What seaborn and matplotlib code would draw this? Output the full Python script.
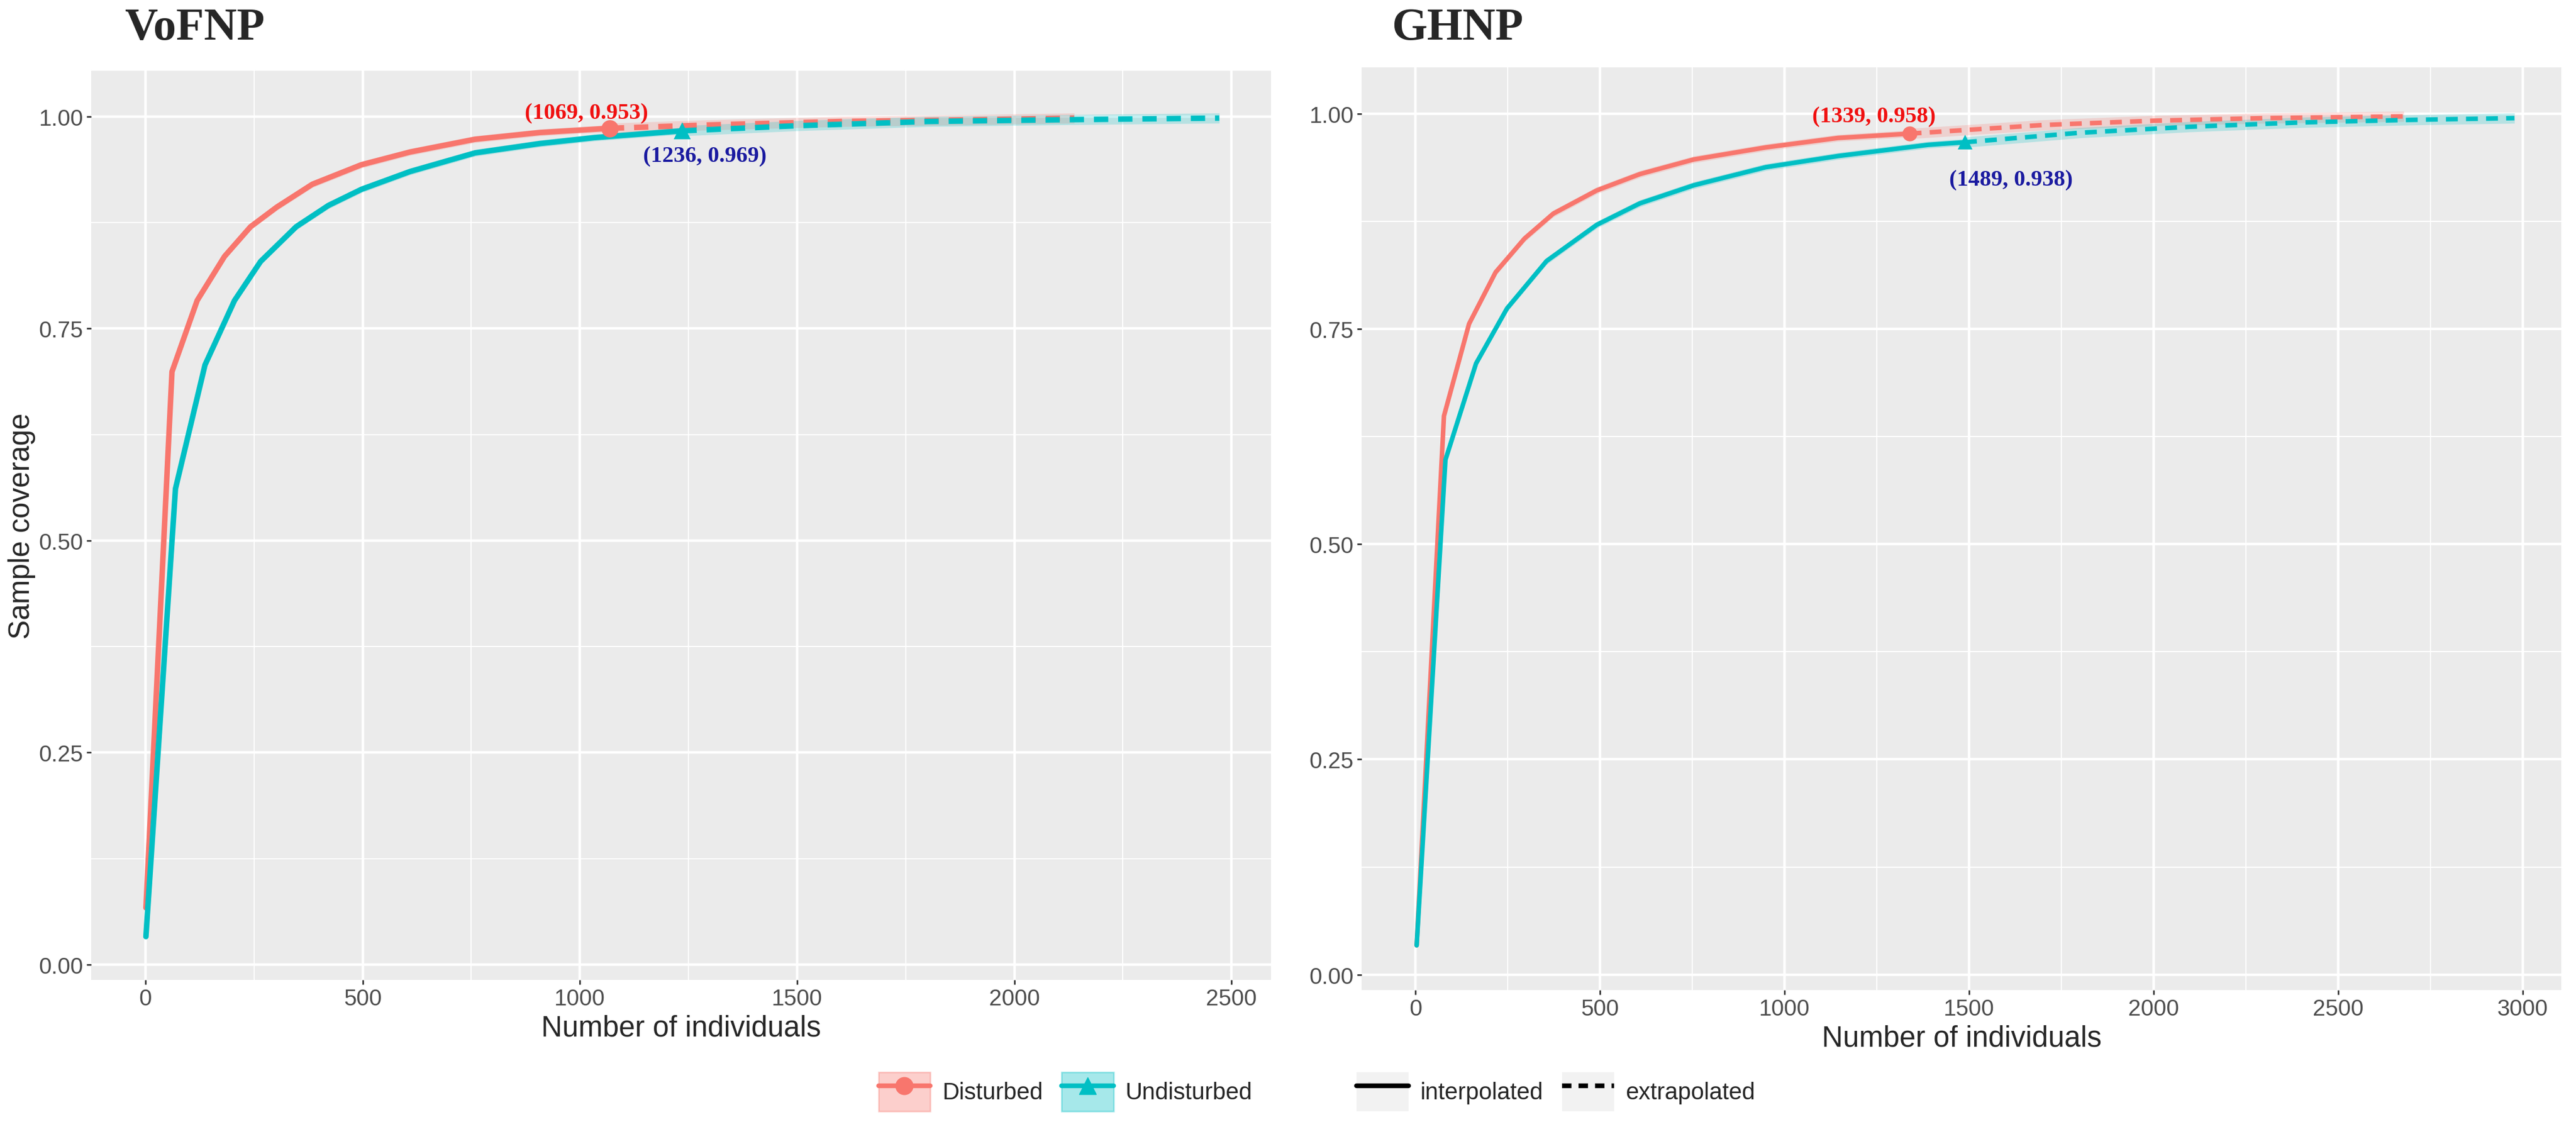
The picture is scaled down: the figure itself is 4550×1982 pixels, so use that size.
import numpy as np
import pandas as pd
import seaborn as sns
import matplotlib.pyplot as plt
from matplotlib.lines import Line2D
from matplotlib.patches import Patch
from matplotlib.legend_handler import HandlerTuple

# ---- VoFNP (left panel) ----
vo_dist_m = [1, 61, 119, 182, 242, 302, 384, 497, 609, 758, 908, 1069]
vo_dist_c = [0.067, 0.699, 0.783, 0.835, 0.870, 0.893, 0.920, 0.943, 0.958, 0.973, 0.981, 0.986]
vo_dist_ext_m = [1069, 1300, 1600, 1900, 2138]
vo_dist_ext_c = [0.986, 0.990, 0.994, 0.996, 0.998]
vo_und_m = [1, 69, 137, 205, 265, 347, 421, 497, 609, 759, 908, 1034, 1236]
vo_und_c = [0.033, 0.561, 0.707, 0.783, 0.829, 0.870, 0.895, 0.914, 0.935, 0.957, 0.968, 0.975, 0.983]
vo_und_ext_m = [1236, 1500, 1800, 2100, 2472]
vo_und_ext_c = [0.983, 0.989, 0.994, 0.996, 0.998]

# ---- GHNP (right panel) ----
gh_dist_m = [3, 77, 145, 217, 295, 373, 491, 608, 754, 949, 1145, 1339]
gh_dist_c = [0.034, 0.649, 0.756, 0.816, 0.855, 0.884, 0.911, 0.930, 0.947, 0.961, 0.972, 0.977]
gh_dist_ext_m = [1339, 1700, 2000, 2300, 2678]
gh_dist_ext_c = [0.977, 0.987, 0.992, 0.995, 0.997]
gh_und_m = [3, 81, 164, 248, 355, 491, 608, 754, 949, 1145, 1389, 1489]
gh_und_c = [0.034, 0.598, 0.710, 0.774, 0.829, 0.871, 0.896, 0.917, 0.938, 0.951, 0.964, 0.967]
gh_und_ext_m = [1489, 1800, 2100, 2400, 2700, 2978]
gh_und_ext_c = [0.967, 0.978, 0.985, 0.990, 0.993, 0.995]

sites = ['Disturbed', 'Undisturbed']
methods = ['interpolated', 'extrapolated']
vo_labels = ['(1069, 0.953)', '(1236, 0.969)']
gh_labels = ['(1339, 0.958)', '(1489, 0.938)']
x_ticks_vo = [0, 500, 1000, 1500, 2000, 2500]
x_ticks_gh = [0, 500, 1000, 1500, 2000, 2500, 3000]
y_ticks = [0.00, 0.25, 0.50, 0.75, 1.00]

pal = {'Disturbed': '#F8766D', 'Undisturbed': '#00BFC4'}
marks = {'Disturbed': 'o', 'Undisturbed': '^'}
text_cols = ['#F01010', '#1A1AA0']

sns.set_theme(style='darkgrid', rc={
    'axes.facecolor': '#EBEBEB',
    'grid.color': 'white',
    'axes.edgecolor': '#EBEBEB',
})
plt.rcParams['font.family'] = ['Liberation Sans', 'DejaVu Sans']


def make_df(dm, dc, dem, dec, um, uc, uem, uec):
    parts = []
    for s, m, c, meth in [('Disturbed', dm, dc, 'interpolated'),
                          ('Disturbed', dem, dec, 'extrapolated'),
                          ('Undisturbed', um, uc, 'interpolated'),
                          ('Undisturbed', uem, uec, 'extrapolated')]:
        parts.append(pd.DataFrame({'m': m, 'SC': c, 'site': s, 'method': meth}))
    return pd.concat(parts, ignore_index=True)


def draw_panel(ax, df, lw, ms, labels, label_pos, xticks, xlim):
    for (s, meth), g in df.groupby(['site', 'method']):
        band = 0.004 if meth == 'interpolated' else 0.006
        ax.fill_between(g['m'], g['SC'] - band, g['SC'] + band,
                        color=pal[s], alpha=0.22, lw=0)
    sns.lineplot(data=df, x='m', y='SC', hue='site', style='method',
                 palette=pal, dashes={'interpolated': '', 'extrapolated': (2.6, 1.8)},
                 style_order=methods, hue_order=sites,
                 estimator=None, sort=False, linewidth=lw, legend=False, ax=ax)
    for i, s in enumerate(sites):
        ref = df[(df['site'] == s) & (df['method'] == 'interpolated')].iloc[-1]
        ax.plot(ref['m'], ref['SC'], marker=marks[s], color=pal[s], ms=ms, mew=0)
        ax.text(label_pos[i][0], label_pos[i][1], labels[i], color=text_cols[i],
                fontsize=29, fontweight='bold', family='Liberation Serif',
                ha='center', va='center')
    ax.set_xlim(*xlim)
    ax.set_ylim(-0.018, 1.054)
    ax.set_xticks(xticks)
    ax.set_yticks(y_ticks)
    ax.set_yticklabels([f'{v:.2f}' for v in y_ticks])
    ax.set_xticks([t + 250 for t in xticks[:-1]], minor=True)
    ax.set_yticks([0.125, 0.375, 0.625, 0.875], minor=True)
    ax.grid(which='major', color='white', lw=3.2)
    ax.grid(which='minor', color='white', lw=1.5)
    ax.tick_params(axis='both', which='major', labelsize=29, labelcolor='#4D4D4D',
                   length=6, width=2, color='#333333', pad=4,
                   bottom=True, left=True)
    ax.tick_params(which='minor', length=0)
    ax.set_xlabel('Number of individuals', fontsize=37, labelpad=6)
    ax.set_ylabel('')
    for sp in ax.spines.values():
        sp.set_visible(False)


fig = plt.figure(figsize=(45.5, 19.83), dpi=100)
ax1 = fig.add_axes([0.0354, 0.1266, 0.458, 0.810])
ax2 = fig.add_axes([0.5286, 0.1175, 0.4657, 0.822])

df_vo = make_df(vo_dist_m, vo_dist_c, vo_dist_ext_m, vo_dist_ext_c,
                vo_und_m, vo_und_c, vo_und_ext_m, vo_und_ext_c)
df_gh = make_df(gh_dist_m, gh_dist_c, gh_dist_ext_m, gh_dist_ext_c,
                gh_und_m, gh_und_c, gh_und_ext_m, gh_und_ext_c)

draw_panel(ax1, df_vo, 7.0, 22, vo_labels, [(1015, 1.004), (1288, 0.953)],
           x_ticks_vo, (-125, 2591))
draw_panel(ax2, df_gh, 5.8, 19, gh_labels, [(1242, 0.997), (1614, 0.923)],
           x_ticks_gh, (-146, 3105))
ax1.set_ylabel('Sample coverage', fontsize=37, labelpad=4)

fig.text(0.0484, 0.9647, 'VoFNP', fontsize=58, fontweight='bold',
         family='Liberation Serif', va='baseline')
fig.text(0.5402, 0.9647, 'GHNP', fontsize=58, fontweight='bold',
         family='Liberation Serif', va='baseline')

# legends
site_handles = [(Patch(facecolor=pal[s], alpha=0.35, edgecolor=pal[s], lw=2),
                 Line2D([], [], color=pal[s], lw=6, marker=marks[s], ms=22))
                for s in sites]
fig.legend(site_handles, sites, loc='center', bbox_to_anchor=(0.4136, 0.027),
           ncol=2, frameon=False, fontsize=30, handlelength=2.2, handleheight=2.2,
           handletextpad=0.5, columnspacing=0.8,
           handler_map={tuple: HandlerTuple(ndivide=1, pad=0)})
meth_handles = [(Patch(facecolor='#F2F2F2', edgecolor='none'),
                 Line2D([], [], color='black', lw=6, ls=ls))
                for ls in ['-', (0, (2.0, 1.5))]]
fig.legend(meth_handles, methods, loc='center', bbox_to_anchor=(0.604, 0.027),
           ncol=2, frameon=False, fontsize=30, handlelength=2.2, handleheight=2.2,
           handletextpad=0.5, columnspacing=0.8,
           handler_map={tuple: HandlerTuple(ndivide=1, pad=0)})

fig.savefig('out.png', dpi=100, facecolor='white')
